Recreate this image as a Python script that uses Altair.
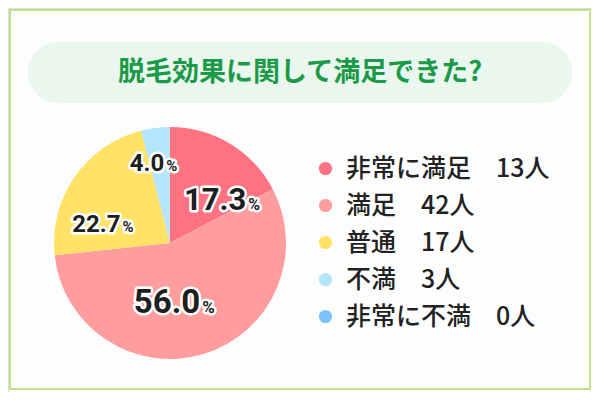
import altair as alt
import pandas as pd

# ---- data ----
categories = ["非常に満足", "満足", "普通", "不満", "非常に不満"]
counts = [13, 42, 17, 3, 0]
percents = ["17.3", "56.0", "22.7", "4.0", "0.0"]
colors = ["#ff7282", "#ff9d9e", "#ffe266", "#b3e5fc", "#7cc3ff"]
title_text = "脱毛効果に関して満足できた?"

legend_labels = [f"{c}　{n}人" for c, n in zip(categories, counts)]
df = pd.DataFrame({
    "cat": categories,
    "n": counts,
    "pct": percents,
    "lab": legend_labels,
    "ord": list(range(len(categories))),
})

CX, CY, R = 162, 235, 116
W, H = 584, 384

base = alt.Chart(df)

frame = base.mark_rect(fill="#fdfdfd", stroke="#c5e08a", strokeWidth=2).encode(
    x=alt.value(2), x2=alt.value(582), y=alt.value(2), y2=alt.value(381)
).transform_filter("datum.ord == 0")

pill = base.mark_rect(fill="#eaf7ef", cornerRadius=30).encode(
    x=alt.value(20), x2=alt.value(564), y=alt.value(34), y2=alt.value(95)
).transform_filter("datum.ord == 0")

title = base.mark_text(
    text=title_text, font="Noto Sans CJK JP", fontSize=27, fontWeight="bold",
    color="#1b9a47", align="center", baseline="middle"
).encode(x=alt.value(292), y=alt.value(65)).transform_filter("datum.ord == 0")

theta = alt.Theta("n:Q", stack=True)
order = alt.Order("ord:Q", sort="ascending")

pie = base.mark_arc(radius=R).encode(
    theta=theta,
    order=order,
    x=alt.value(CX),
    y=alt.value(CY),
    color=alt.Color(
        "lab:N",
        sort=legend_labels,
        scale=alt.Scale(domain=legend_labels, range=colors),
        legend=alt.Legend(
            title=None, orient="none", legendX=305, legendY=148,
            symbolType="circle", symbolSize=175, symbolStrokeWidth=0,
            labelFont="Noto Sans CJK JP", labelFontSize=25, labelFontWeight=500,
            labelColor="#222222", labelOffset=8, rowPadding=11, padding=0,
            labelLimit=400,
        ),
    ),
)

# label styling: (category, number size, % size, dx, dy)
label_style = [
    ("非常に満足", 31, 16, 40, 27),
    ("満足", 33, 17, 10, 3),
    ("普通", 24, 15, 8, 29),
    ("不満", 24, 15, 3, -3),
]

stacked = base.transform_window(
    cum="sum(n)", sort=[alt.SortField("ord", order="ascending")],
    frame=[None, 0]
).transform_calculate(mid="datum.cum - datum.n / 2", pcts="'%'")

theta_mid = alt.Theta("mid:Q", stack=None)

halo_layers, fill_layers = [], []
for cat, fs, ps, dx, dy in label_style:
    sub = stacked.transform_filter(alt.datum.cat == cat)
    for halo in (True, False):
        extra = dict(stroke="white", strokeWidth=5, strokeJoin="round") if halo else {}
        num = sub.mark_text(
            radius=70, font="Roboto", fontWeight="bold", fontSize=fs,
            align="right", baseline="alphabetic", dx=dx, dy=dy,
            color="#1e1e1e", **extra
        ).encode(theta=theta_mid, x=alt.value(CX), y=alt.value(CY), text="pct:N")
        pc = sub.mark_text(
            radius=70, font="Roboto", fontWeight="bold", fontSize=ps,
            align="left", baseline="alphabetic", dx=dx + 2, dy=dy,
            color="#1e1e1e", **extra
        ).encode(theta=theta_mid, x=alt.value(CX), y=alt.value(CY), text="pcts:N")
        (halo_layers if halo else fill_layers).extend([num, pc])

chart = alt.layer(frame, pill, title, pie, *halo_layers, *fill_layers).properties(
    width=W, height=H, padding=0, autosize=alt.AutoSizeParams(type="none")
).configure_view(stroke=None).configure(background="white")

chart.save("out.html", embed_options={"renderer": "svg", "actions": False})
